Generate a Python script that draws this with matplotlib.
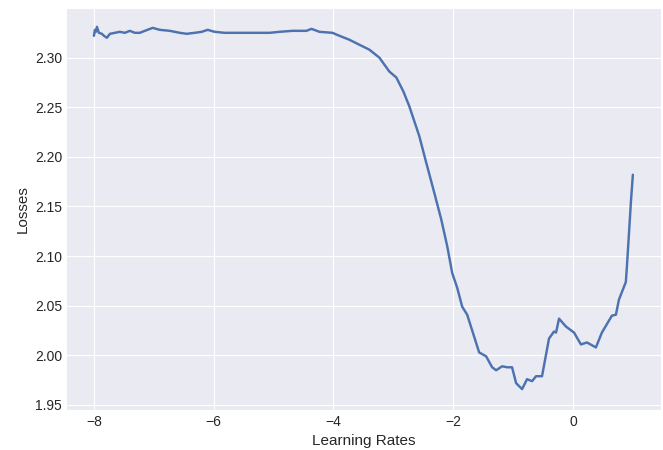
import matplotlib
matplotlib.use("Agg")
import matplotlib.pyplot as plt

# log10 learning rate vs smoothed loss
lrs = [-8.00, -7.983, -7.967, -7.95, -7.917, -7.867, -7.833, -7.783, -7.733, -7.65,
       -7.567, -7.483, -7.40, -7.317, -7.233, -7.15, -7.017, -6.90, -6.733, -6.567,
       -6.45, -6.317, -6.20, -6.10, -5.983, -5.817, -5.567, -5.317, -5.067, -4.90,
       -4.683, -4.45, -4.367, -4.233, -4.017, -3.90, -3.733, -3.567, -3.40, -3.233,
       -3.067, -2.95, -2.833, -2.733, -2.567, -2.45, -2.317, -2.20, -2.10, -2.017,
       -1.933, -1.85, -1.767, -1.667, -1.567, -1.45, -1.35, -1.283, -1.183, -1.10,
       -1.017, -0.95, -0.85, -0.767, -0.683, -0.617, -0.517, -0.40, -0.317, -0.283,
       -0.233, -0.117, 0.017, 0.133, 0.233, 0.383, 0.483, 0.65, 0.717, 0.767,
       0.883, 0.90, 0.97, 1.00]
losses = [2.322, 2.328, 2.326, 2.331, 2.325, 2.324, 2.322, 2.320, 2.324, 2.325,
          2.326, 2.325, 2.327, 2.325, 2.325, 2.327, 2.330, 2.328, 2.327, 2.325,
          2.324, 2.325, 2.326, 2.328, 2.326, 2.325, 2.325, 2.325, 2.325, 2.326,
          2.327, 2.327, 2.329, 2.326, 2.325, 2.322, 2.318, 2.313, 2.308, 2.300,
          2.286, 2.280, 2.266, 2.251, 2.221, 2.194, 2.164, 2.137, 2.110, 2.083,
          2.068, 2.049, 2.041, 2.022, 2.003, 1.999, 1.988, 1.985, 1.989, 1.988,
          1.988, 1.972, 1.966, 1.976, 1.974, 1.979, 1.979, 2.017, 2.024, 2.023,
          2.037, 2.029, 2.023, 2.011, 2.013, 2.008, 2.023, 2.040, 2.041, 2.056,
          2.074, 2.089, 2.157, 2.182]

plt.style.use("seaborn-v0_8-darkgrid")
plt.rcParams["font.family"] = ["Liberation Sans", "DejaVu Sans"]

fig = plt.figure(figsize=(6.63, 4.5), dpi=100)
ax = fig.add_axes([0.101, 0.089, 0.896, 0.891])
ax.plot(lrs, losses, color="#4c72b0", linewidth=1.75)
ax.set_xlim(-8.45, 1.47)
ax.set_ylim(1.945, 2.349)
ax.set_xlabel("Learning Rates", fontsize=11)
ax.set_ylabel("Losses", fontsize=11)
ax.tick_params(labelsize=10)
fig.savefig("out.png", dpi=100)
